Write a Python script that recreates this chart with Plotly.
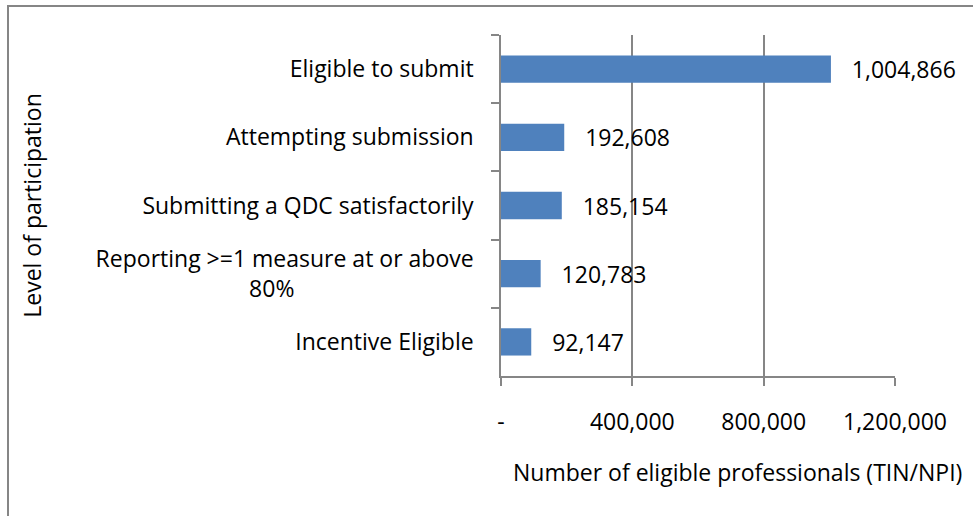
import plotly.graph_objects as go

categories = [
    "Eligible to submit",
    "Attempting submission",
    "Submitting a QDC satisfactorily",
    "Reporting >=1 measure at or above<br>80%" + "\u00a0" * 30,
    "Incentive Eligible",
]
values = [1004866, 192608, 185154, 120783, 92147]
tick_vals = [0, 400000, 800000, 1200000]
tick_text = ["-", "400,000", "800,000", "1,200,000"]

FONT = "Open Sans"
FS = 23
GRAY = "#868686"
W, H = 973, 516
L, R, T, B = 501, 78, 35, 140
pw, ph = W - L - R, H - T - B

def px(x):
    return (x - L) / pw

def py(y):
    return (H - B - y) / ph

fig = go.Figure(
    go.Bar(
        y=categories,
        x=values,
        orientation="h",
        marker=dict(color="#4F81BD", line=dict(width=0)),
        text=["\u00a0\u00a0\u00a0" + f"{v:,}" for v in values],
        textposition="outside",
        constraintext="none",
        textfont=dict(family=FONT, size=FS, color="#000000"),
        cliponaxis=False,
    )
)

fig.update_layout(
    width=W,
    height=H,
    margin=dict(l=L, r=R, t=T, b=B),
    paper_bgcolor="white",
    plot_bgcolor="white",
    bargap=0.6,
    showlegend=False,
    font=dict(family=FONT, size=FS, color="#000000"),
    xaxis=dict(
        range=[0, 1200000],
        tickvals=tick_vals,
        ticktext=tick_text,
        showgrid=True,
        gridcolor=GRAY,
        gridwidth=1.5,
        showline=True,
        linecolor=GRAY,
        linewidth=1.5,
        ticks="outside",
        ticklen=8,
        tickcolor=GRAY,
        tickwidth=1.5,
        ticklabelstandoff=17,
        zeroline=False,
        tickfont=dict(family=FONT, size=FS, color="#000000"),
    ),
    yaxis=dict(
        autorange="reversed",
        showline=True,
        linecolor=GRAY,
        linewidth=1.5,
        ticks="outside",
        tickson="boundaries",
        ticklen=8,
        tickcolor=GRAY,
        tickwidth=1.5,
        ticklabelstandoff=21,
        showgrid=False,
        tickfont=dict(family=FONT, size=FS, color="#000000"),
        title=dict(text="Level of participation", standoff=48,
                   font=dict(family=FONT, size=FS, color="#000000")),
    ),
    annotations=[
        dict(
            text="Number of eligible professionals (TIN/NPI)",
            xref="paper", yref="paper",
            x=px(737), y=py(472),
            xanchor="center", yanchor="middle",
            showarrow=False,
            font=dict(family=FONT, size=FS, color="#000000"),
        )
    ],
    shapes=[
        dict(type="line", xref="paper", yref="paper",
             x0=px(8), x1=px(8), y0=py(5), y1=py(520),
             line=dict(color=GRAY, width=2)),
        dict(type="line", xref="paper", yref="paper",
             x0=px(7), x1=px(980), y0=py(6), y1=py(6),
             line=dict(color=GRAY, width=2)),
    ],
)

fig.write_html(
    "out.html",
    config={"displayModeBar": False},
    post_script="document.body.style.margin='0';",
)
